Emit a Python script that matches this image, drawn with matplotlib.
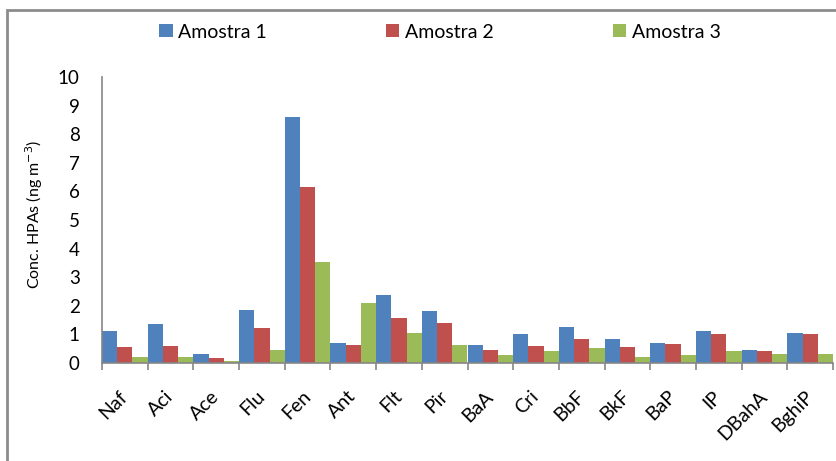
import matplotlib.pyplot as plt
from matplotlib.patches import Rectangle
import numpy as np

plt.rcParams['font.family'] = ['Lato', 'DejaVu Sans']

categories = ['Naf', 'Aci', 'Ace', 'Flu', 'Fen', 'Ant', 'Flt', 'Pir', 'BaA', 'Cri',
              'BbF', 'BkF', 'BaP', 'IP', 'DBahA', 'BghiP']
amostra1 = [1.12, 1.36, 0.31, 1.85, 8.61, 0.70, 2.38, 1.82, 0.63, 1.01,
            1.26, 0.84, 0.70, 1.12, 0.45, 1.05]
amostra2 = [0.56, 0.59, 0.17, 1.22, 6.15, 0.63, 1.57, 1.40, 0.45, 0.59,
            0.84, 0.56, 0.66, 1.01, 0.42, 1.01]
amostra3 = [0.21, 0.21, 0.07, 0.45, 3.53, 2.10, 1.05, 0.63, 0.28, 0.42,
            0.52, 0.21, 0.28, 0.42, 0.31, 0.31]
series_names = ['Amostra 1', 'Amostra 2', 'Amostra 3']
colors = ['#4F81BD', '#C0504D', '#9BBB59']

fig = plt.figure(figsize=(8.36, 4.61), dpi=100)
ax = fig.add_axes([102 / 836, 1 - 363 / 461, 731 / 836, 286 / 461])

# outer chart frame (cut off at right and bottom)
fig.patches.append(Rectangle((7 / 836, -0.2), 1.2, 1 - 10 / 461 + 0.2,
                             transform=fig.transFigure, fill=False,
                             edgecolor='#8C8C8C', linewidth=2, zorder=0))

x = np.arange(len(categories))
w = 1 / 3
bars = []
for i, vals in enumerate([amostra1, amostra2, amostra3]):
    b = ax.bar(x - 0.5 + w * (i + 0.5), vals, width=w, color=colors[i],
               label=series_names[i], zorder=3, linewidth=0)
    bars.append(b)

ax.set_xlim(-0.5, len(categories) - 0.5)
ax.set_ylim(0, 10)

ax.set_yticks(range(0, 11))
ax.set_yticklabels([str(v) for v in range(0, 11)], fontsize=13.5)
ax.set_yticks([0, 2, 3, 4, 5, 6, 10], minor=True)
ax.tick_params(axis='y', which='major', length=0, pad=16)
ax.tick_params(axis='y', which='minor', length=9, color='#868686', width=1.2)
ax.grid(which='minor', axis='y', color='#868686', linewidth=1.2, zorder=0)

ax.set_xticks(np.arange(-0.5, len(categories)), minor=True)
ax.set_xticks(x)
ax.set_xticklabels(categories, fontsize=14, rotation=45, ha='right',
                   va='center', rotation_mode='anchor')
ax.tick_params(axis='x', which='major', length=0, pad=22)
ax.tick_params(axis='x', which='minor', length=5, color='#868686', width=1.2)

for s in ['top', 'right']:
    ax.spines[s].set_visible(False)
for s in ['left', 'bottom']:
    ax.spines[s].set_color('#868686')
    ax.spines[s].set_linewidth(1.2)
    ax.spines[s].set_zorder(4)

ax.set_ylabel('Conc. HPAs (ng m$^{-3}$)', fontsize=11.5, labelpad=10)
ax.yaxis.set_label_coords(-0.078, 0.52)

fig.legend(handles=bars, labels=series_names, loc='center', ncol=3,
           bbox_to_anchor=(440 / 836, 1 - 32 / 461), frameon=False,
           fontsize=14, handlelength=0.7, handleheight=0.7,
           handletextpad=0.3, columnspacing=6.1)

plt.savefig('out.png', dpi=100)
